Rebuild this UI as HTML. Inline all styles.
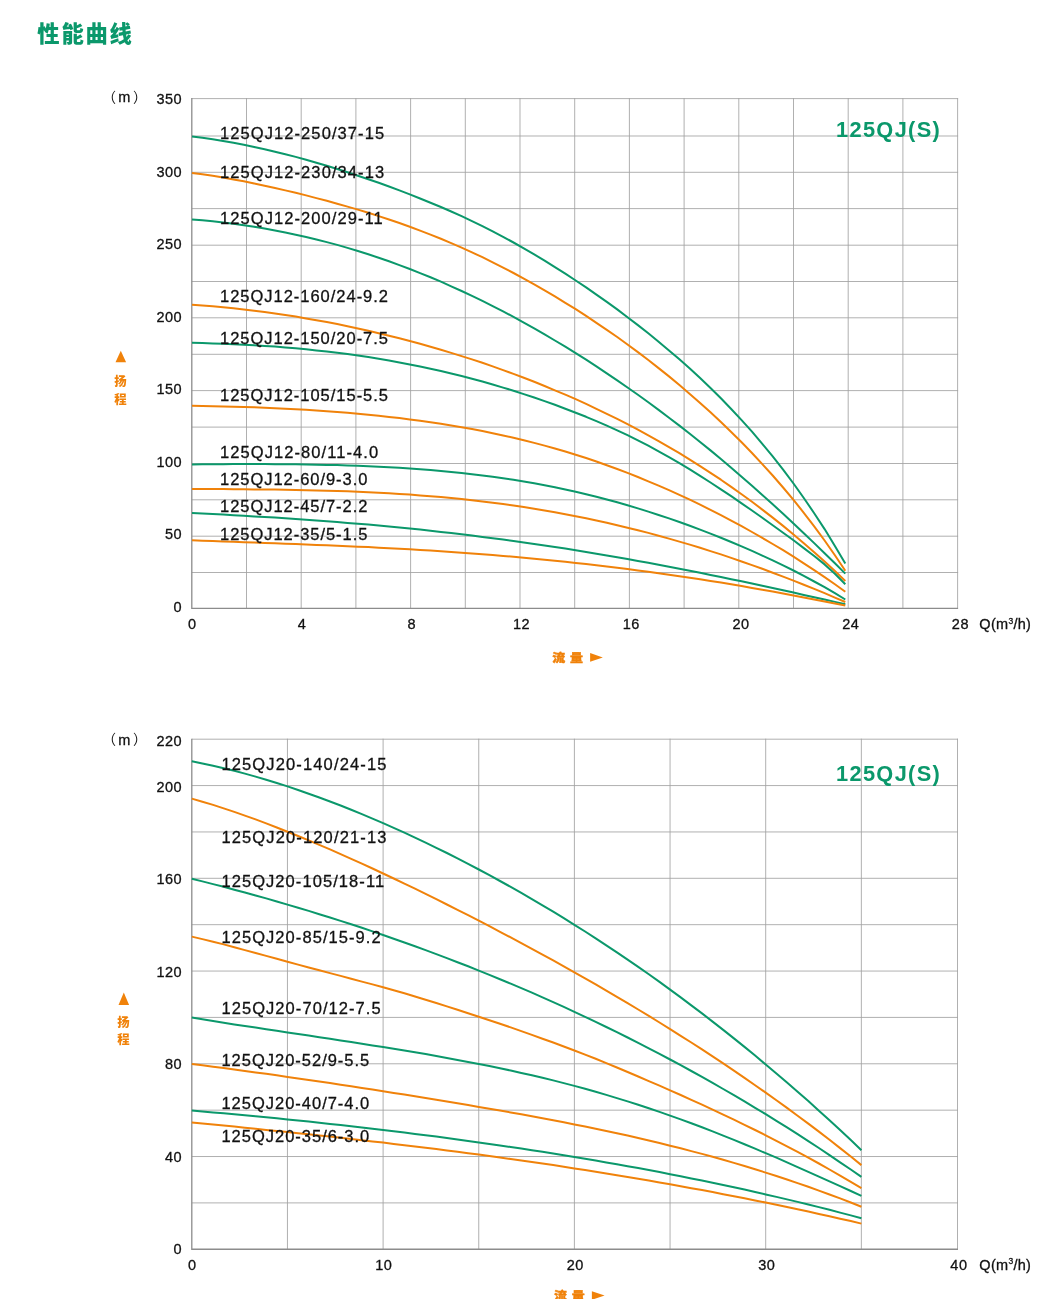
<!DOCTYPE html>
<html lang="zh"><head><meta charset="utf-8"><title>性能曲线</title>
<style>html,body{margin:0;padding:0;background:#fff}svg{display:block}</style>
</head><body>
<svg width="1058" height="1299" viewBox="0 0 1058 1299">
<style>
text{font-family:"Liberation Sans","Noto Sans CJK SC",sans-serif;fill:#111111}
.lb{font-size:16.5px;stroke:#111;stroke-width:0.3px}
.tk{font-size:14.5px;letter-spacing:0.3px;stroke:#111;stroke-width:0.3px}
.yt{stroke:#111;stroke-width:0.3px;font-size:14.5px;text-anchor:end;letter-spacing:0.5px}
.xt{stroke:#111;stroke-width:0.3px;font-size:14.5px;text-anchor:middle;letter-spacing:0.5px}
.ttl{font-family:"Liberation Sans","Noto Sans CJK SC",sans-serif;font-weight:900;font-size:22.3px;fill:#0b986b}
.big{font-weight:bold;font-size:21.8px;fill:#0b986b}
.ax{font-family:"Liberation Sans","Noto Sans CJK SC",sans-serif;font-weight:900;fill:#f0820a}
.pm{font-family:"Liberation Sans","Noto Sans CJK SC",sans-serif;font-weight:400;font-size:14px}
</style>
<rect width="1058" height="1299" fill="#fff"/>
<text x="37.3" y="42.3" class="ttl" textLength="94.6" lengthAdjust="spacing">性能曲线</text>
<path d="M246.50 98.10V608.40M301.20 98.10V608.40M355.90 98.10V608.40M410.60 98.10V608.40M465.30 98.10V608.40M520.00 98.10V608.40M574.70 98.10V608.40M629.40 98.10V608.40M684.10 98.10V608.40M738.80 98.10V608.40M793.50 98.10V608.40M848.20 98.10V608.40M902.90 98.10V608.40M957.60 98.10V608.40M191.80 98.60H958.10M191.80 136.00H958.10M191.80 172.30H958.10M191.80 208.60H958.10M191.80 245.20H958.10M191.80 281.50H958.10M191.80 317.80H958.10M191.80 354.30H958.10M191.80 390.60H958.10M191.80 427.10H958.10M191.80 463.50H958.10M191.80 499.80H958.10M191.80 536.20H958.10M191.80 572.50H958.10" stroke="#a2a2a2" stroke-width="0.85" fill="none"/>
<path d="M191.80 98.10V608.40H958.10" stroke="#8c8c8c" stroke-width="1.3" fill="none"/>
<path d="M192.0 136.5 L202.4 137.8 L212.7 139.3 L223.1 141.0 L233.5 142.8 L243.8 144.8 L254.2 147.0 L264.6 149.2 L275.0 151.7 L285.3 154.2 L295.7 156.9 L306.1 159.8 L316.4 162.7 L326.8 165.8 L337.2 169.0 L347.5 172.3 L357.9 175.7 L368.3 179.2 L378.7 182.8 L389.0 186.5 L399.4 190.4 L409.8 194.4 L420.1 198.5 L430.5 202.7 L440.9 207.0 L451.2 211.5 L461.6 216.2 L472.0 221.1 L482.4 226.1 L492.7 231.4 L503.1 236.8 L513.5 242.5 L523.8 248.3 L534.2 254.4 L544.6 260.6 L554.9 267.1 L565.3 273.7 L575.7 280.5 L586.1 287.4 L596.4 294.6 L606.8 301.9 L617.2 309.4 L627.5 317.2 L637.9 325.1 L648.3 333.3 L658.6 341.7 L669.0 350.4 L679.4 359.3 L689.8 368.5 L700.1 378.1 L710.5 388.0 L720.9 398.3 L731.2 409.0 L741.6 420.1 L752.0 431.7 L762.3 443.8 L772.7 456.4 L783.1 469.6 L793.5 483.5 L803.8 498.0 L814.2 513.2 L824.6 529.1 L834.9 545.9 L845.3 563.5" stroke="#0b986b" stroke-width="2" fill="none" stroke-linejoin="round"/>
<path d="M192.0 172.9 L202.4 174.3 L212.7 175.8 L223.1 177.5 L233.5 179.4 L243.8 181.3 L254.2 183.4 L264.6 185.7 L275.0 188.0 L285.3 190.4 L295.7 192.8 L306.1 195.4 L316.4 198.1 L326.8 200.8 L337.2 203.7 L347.5 206.6 L357.9 209.6 L368.3 212.8 L378.7 216.1 L389.0 219.5 L399.4 223.0 L409.8 226.7 L420.1 230.6 L430.5 234.6 L440.9 238.8 L451.2 243.1 L461.6 247.7 L472.0 252.4 L482.4 257.2 L492.7 262.3 L503.1 267.6 L513.5 273.0 L523.8 278.6 L534.2 284.4 L544.6 290.3 L554.9 296.4 L565.3 302.8 L575.7 309.2 L586.1 315.9 L596.4 322.8 L606.8 329.8 L617.2 337.0 L627.5 344.5 L637.9 352.1 L648.3 360.0 L658.6 368.1 L669.0 376.4 L679.4 385.0 L689.8 393.9 L700.1 403.0 L710.5 412.3 L720.9 422.0 L731.2 432.0 L741.6 442.3 L752.0 453.0 L762.3 464.1 L772.7 475.5 L783.1 487.5 L793.5 499.9 L803.8 512.8 L814.2 526.3 L824.6 540.5 L834.9 555.3 L845.3 570.8" stroke="#f0820a" stroke-width="2" fill="none" stroke-linejoin="round"/>
<path d="M192.0 219.4 L202.4 220.3 L212.7 221.3 L223.1 222.5 L233.5 223.8 L243.8 225.2 L254.2 226.8 L264.6 228.6 L275.0 230.4 L285.3 232.5 L295.7 234.7 L306.1 237.0 L316.4 239.5 L326.8 242.1 L337.2 244.9 L347.5 247.9 L357.9 251.0 L368.3 254.3 L378.7 257.7 L389.0 261.3 L399.4 265.1 L409.8 269.0 L420.1 273.1 L430.5 277.3 L440.9 281.7 L451.2 286.3 L461.6 291.0 L472.0 295.9 L482.4 300.9 L492.7 306.1 L503.1 311.4 L513.5 316.9 L523.8 322.6 L534.2 328.4 L544.6 334.4 L554.9 340.5 L565.3 346.7 L575.7 353.2 L586.1 359.7 L596.4 366.4 L606.8 373.3 L617.2 380.3 L627.5 387.5 L637.9 394.8 L648.3 402.3 L658.6 409.9 L669.0 417.7 L679.4 425.6 L689.8 433.7 L700.1 442.0 L710.5 450.4 L720.9 459.0 L731.2 467.8 L741.6 476.7 L752.0 485.7 L762.3 494.9 L772.7 504.3 L783.1 513.8 L793.5 523.4 L803.8 533.2 L814.2 543.1 L824.6 553.2 L834.9 563.3 L845.3 573.6" stroke="#0b986b" stroke-width="2" fill="none" stroke-linejoin="round"/>
<path d="M192.0 304.8 L202.4 305.5 L212.7 306.3 L223.1 307.3 L233.5 308.3 L243.8 309.4 L254.2 310.7 L264.6 312.0 L275.0 313.4 L285.3 315.0 L295.7 316.6 L306.1 318.4 L316.4 320.2 L326.8 322.1 L337.2 324.1 L347.5 326.3 L357.9 328.5 L368.3 330.8 L378.7 333.2 L389.0 335.7 L399.4 338.3 L409.8 341.0 L420.1 343.8 L430.5 346.7 L440.9 349.7 L451.2 352.9 L461.6 356.1 L472.0 359.4 L482.4 362.8 L492.7 366.4 L503.1 370.1 L513.5 373.9 L523.8 377.8 L534.2 381.8 L544.6 386.0 L554.9 390.3 L565.3 394.7 L575.7 399.2 L586.1 403.9 L596.4 408.8 L606.8 413.8 L617.2 418.9 L627.5 424.2 L637.9 429.7 L648.3 435.3 L658.6 441.1 L669.0 447.1 L679.4 453.2 L689.8 459.6 L700.1 466.1 L710.5 472.8 L720.9 479.7 L731.2 486.9 L741.6 494.2 L752.0 501.8 L762.3 509.6 L772.7 517.6 L783.1 525.9 L793.5 534.4 L803.8 543.2 L814.2 552.2 L824.6 561.5 L834.9 571.1 L845.3 581.0" stroke="#f0820a" stroke-width="2" fill="none" stroke-linejoin="round"/>
<path d="M192.0 342.8 L202.4 343.1 L212.7 343.4 L223.1 343.8 L233.5 344.2 L243.8 344.7 L254.2 345.3 L264.6 345.9 L275.0 346.6 L285.3 347.4 L295.7 348.3 L306.1 349.3 L316.4 350.4 L326.8 351.5 L337.2 352.8 L347.5 354.1 L357.9 355.6 L368.3 357.1 L378.7 358.8 L389.0 360.5 L399.4 362.4 L409.8 364.4 L420.1 366.5 L430.5 368.7 L440.9 371.0 L451.2 373.5 L461.6 376.0 L472.0 378.7 L482.4 381.5 L492.7 384.5 L503.1 387.6 L513.5 390.7 L523.8 394.1 L534.2 397.5 L544.6 401.1 L554.9 404.8 L565.3 408.7 L575.7 412.7 L586.1 416.8 L596.4 421.2 L606.8 425.7 L617.2 430.3 L627.5 435.2 L637.9 440.3 L648.3 445.7 L658.6 451.3 L669.0 457.1 L679.4 463.1 L689.8 469.4 L700.1 475.9 L710.5 482.5 L720.9 489.3 L731.2 496.2 L741.6 503.3 L752.0 510.5 L762.3 517.8 L772.7 525.2 L783.1 532.7 L793.5 540.3 L803.8 548.1 L814.2 556.0 L824.6 564.4 L834.9 573.7 L845.3 584.2" stroke="#0b986b" stroke-width="2" fill="none" stroke-linejoin="round"/>
<path d="M192.0 405.8 L202.4 406.0 L212.7 406.2 L223.1 406.4 L233.5 406.7 L243.8 407.0 L254.2 407.3 L264.6 407.7 L275.0 408.2 L285.3 408.7 L295.7 409.2 L306.1 409.8 L316.4 410.5 L326.8 411.2 L337.2 412.0 L347.5 412.8 L357.9 413.7 L368.3 414.7 L378.7 415.7 L389.0 416.9 L399.4 418.1 L409.8 419.4 L420.1 420.8 L430.5 422.2 L440.9 423.8 L451.2 425.5 L461.6 427.2 L472.0 429.1 L482.4 431.1 L492.7 433.2 L503.1 435.4 L513.5 437.8 L523.8 440.2 L534.2 442.9 L544.6 445.6 L554.9 448.5 L565.3 451.5 L575.7 454.7 L586.1 458.0 L596.4 461.5 L606.8 465.2 L617.2 469.0 L627.5 472.9 L637.9 477.0 L648.3 481.3 L658.6 485.7 L669.0 490.2 L679.4 494.9 L689.8 499.7 L700.1 504.7 L710.5 509.9 L720.9 515.2 L731.2 520.6 L741.6 526.2 L752.0 532.0 L762.3 537.9 L772.7 544.0 L783.1 550.2 L793.5 556.7 L803.8 563.3 L814.2 570.1 L824.6 577.1 L834.9 584.3 L845.3 591.7" stroke="#f0820a" stroke-width="2" fill="none" stroke-linejoin="round"/>
<path d="M192.0 464.4 L202.4 464.3 L212.7 464.2 L223.1 464.2 L233.5 464.1 L243.8 464.1 L254.2 464.1 L264.6 464.1 L275.0 464.2 L285.3 464.2 L295.7 464.3 L306.1 464.5 L316.4 464.7 L326.8 464.9 L337.2 465.1 L347.5 465.4 L357.9 465.8 L368.3 466.2 L378.7 466.7 L389.0 467.2 L399.4 467.8 L409.8 468.5 L420.1 469.3 L430.5 470.1 L440.9 471.0 L451.2 472.0 L461.6 473.0 L472.0 474.2 L482.4 475.4 L492.7 476.8 L503.1 478.3 L513.5 479.8 L523.8 481.5 L534.2 483.3 L544.6 485.2 L554.9 487.3 L565.3 489.5 L575.7 491.8 L586.1 494.2 L596.4 496.8 L606.8 499.5 L617.2 502.3 L627.5 505.3 L637.9 508.4 L648.3 511.6 L658.6 515.0 L669.0 518.4 L679.4 522.0 L689.8 525.8 L700.1 529.6 L710.5 533.6 L720.9 537.7 L731.2 542.0 L741.6 546.4 L752.0 550.9 L762.3 555.6 L772.7 560.4 L783.1 565.4 L793.5 570.5 L803.8 575.9 L814.2 581.5 L824.6 587.2 L834.9 593.2 L845.3 599.5" stroke="#0b986b" stroke-width="2" fill="none" stroke-linejoin="round"/>
<path d="M192.0 488.9 L202.4 489.0 L212.7 489.1 L223.1 489.1 L233.5 489.2 L243.8 489.3 L254.2 489.4 L264.6 489.5 L275.0 489.6 L285.3 489.8 L295.7 490.0 L306.1 490.2 L316.4 490.4 L326.8 490.7 L337.2 491.0 L347.5 491.3 L357.9 491.8 L368.3 492.2 L378.7 492.7 L389.0 493.3 L399.4 493.9 L409.8 494.6 L420.1 495.4 L430.5 496.2 L440.9 497.1 L451.2 498.1 L461.6 499.1 L472.0 500.3 L482.4 501.5 L492.7 502.8 L503.1 504.1 L513.5 505.6 L523.8 507.1 L534.2 508.8 L544.6 510.5 L554.9 512.3 L565.3 514.2 L575.7 516.2 L586.1 518.3 L596.4 520.5 L606.8 522.8 L617.2 525.2 L627.5 527.7 L637.9 530.3 L648.3 532.9 L658.6 535.7 L669.0 538.6 L679.4 541.6 L689.8 544.6 L700.1 547.8 L710.5 551.1 L720.9 554.4 L731.2 557.9 L741.6 561.5 L752.0 565.1 L762.3 568.8 L772.7 572.7 L783.1 576.6 L793.5 580.6 L803.8 584.7 L814.2 588.9 L824.6 593.2 L834.9 597.6 L845.3 602.0" stroke="#f0820a" stroke-width="2" fill="none" stroke-linejoin="round"/>
<path d="M192.0 513.0 L202.4 513.5 L212.7 514.1 L223.1 514.6 L233.5 515.2 L243.8 515.8 L254.2 516.4 L264.6 517.0 L275.0 517.6 L285.3 518.3 L295.7 519.0 L306.1 519.7 L316.4 520.5 L326.8 521.2 L337.2 522.0 L347.5 522.9 L357.9 523.7 L368.3 524.6 L378.7 525.6 L389.0 526.5 L399.4 527.5 L409.8 528.6 L420.1 529.6 L430.5 530.8 L440.9 531.9 L451.2 533.1 L461.6 534.3 L472.0 535.6 L482.4 536.9 L492.7 538.2 L503.1 539.6 L513.5 541.0 L523.8 542.4 L534.2 543.9 L544.6 545.5 L554.9 547.0 L565.3 548.6 L575.7 550.3 L586.1 552.0 L596.4 553.7 L606.8 555.4 L617.2 557.2 L627.5 559.1 L637.9 560.9 L648.3 562.8 L658.6 564.8 L669.0 566.7 L679.4 568.7 L689.8 570.8 L700.1 572.8 L710.5 574.9 L720.9 577.0 L731.2 579.2 L741.6 581.3 L752.0 583.5 L762.3 585.8 L772.7 588.0 L783.1 590.3 L793.5 592.6 L803.8 594.9 L814.2 597.2 L824.6 599.5 L834.9 601.9 L845.3 604.2" stroke="#0b986b" stroke-width="2" fill="none" stroke-linejoin="round"/>
<path d="M192.0 540.3 L202.4 540.7 L212.7 541.1 L223.1 541.4 L233.5 541.8 L243.8 542.2 L254.2 542.5 L264.6 542.9 L275.0 543.3 L285.3 543.7 L295.7 544.1 L306.1 544.5 L316.4 544.9 L326.8 545.3 L337.2 545.7 L347.5 546.2 L357.9 546.7 L368.3 547.1 L378.7 547.7 L389.0 548.2 L399.4 548.7 L409.8 549.3 L420.1 549.9 L430.5 550.6 L440.9 551.2 L451.2 551.9 L461.6 552.7 L472.0 553.4 L482.4 554.2 L492.7 555.0 L503.1 555.9 L513.5 556.8 L523.8 557.7 L534.2 558.7 L544.6 559.7 L554.9 560.7 L565.3 561.8 L575.7 562.9 L586.1 564.0 L596.4 565.2 L606.8 566.4 L617.2 567.7 L627.5 569.0 L637.9 570.4 L648.3 571.8 L658.6 573.2 L669.0 574.7 L679.4 576.2 L689.8 577.7 L700.1 579.3 L710.5 581.0 L720.9 582.6 L731.2 584.3 L741.6 586.1 L752.0 587.9 L762.3 589.7 L772.7 591.6 L783.1 593.5 L793.5 595.4 L803.8 597.4 L814.2 599.4 L824.6 601.4 L834.9 603.5 L845.3 605.6" stroke="#f0820a" stroke-width="2" fill="none" stroke-linejoin="round"/>
<text transform="translate(220.0 138.7) scale(1.000 1)" textLength="164.1" lengthAdjust="spacing" class="lb">125QJ12-250/37-15</text>
<text transform="translate(220.0 178.2) scale(1.000 1)" textLength="164.1" lengthAdjust="spacing" class="lb">125QJ12-230/34-13</text>
<text transform="translate(220.0 223.7) scale(1.000 1)" textLength="162.7" lengthAdjust="spacing" class="lb">125QJ12-200/29-11</text>
<text transform="translate(220.0 301.9) scale(1.000 1)" textLength="168.0" lengthAdjust="spacing" class="lb">125QJ12-160/24-9.2</text>
<text transform="translate(220.0 343.8) scale(1.000 1)" textLength="168.0" lengthAdjust="spacing" class="lb">125QJ12-150/20-7.5</text>
<text transform="translate(220.0 401.2) scale(1.000 1)" textLength="168.0" lengthAdjust="spacing" class="lb">125QJ12-105/15-5.5</text>
<text transform="translate(220.0 457.8) scale(1.000 1)" textLength="158.1" lengthAdjust="spacing" class="lb">125QJ12-80/11-4.0</text>
<text transform="translate(220.0 484.8) scale(1.000 1)" textLength="147.4" lengthAdjust="spacing" class="lb">125QJ12-60/9-3.0</text>
<text transform="translate(220.0 512.3) scale(1.000 1)" textLength="147.4" lengthAdjust="spacing" class="lb">125QJ12-45/7-2.2</text>
<text transform="translate(220.0 539.6) scale(1.000 1)" textLength="147.4" lengthAdjust="spacing" class="lb">125QJ12-35/5-1.5</text>
<text x="836.0" y="136.6" class="big" textLength="103.8" lengthAdjust="spacing">125QJ(S)</text>
<text x="182.2" y="104.2" class="yt">350</text>
<text x="182.2" y="176.7" class="yt">300</text>
<text x="182.2" y="249.2" class="yt">250</text>
<text x="182.2" y="321.7" class="yt">200</text>
<text x="182.2" y="394.2" class="yt">150</text>
<text x="182.2" y="466.6" class="yt">100</text>
<text x="182.2" y="539.1" class="yt">50</text>
<text x="182.2" y="611.6" class="yt">0</text>
<text x="192.4" y="629" class="xt">0</text>
<text x="302.1" y="629" class="xt">4</text>
<text x="411.8" y="629" class="xt">8</text>
<text x="521.6" y="629" class="xt">12</text>
<text x="631.3" y="629" class="xt">16</text>
<text x="741.0" y="629" class="xt">20</text>
<text x="850.7" y="629" class="xt">24</text>
<text x="960.4" y="629" class="xt">28</text>
<text x="979.3" y="629" class="tk">Q(m<tspan dy="-5.5" font-size="8.5">3</tspan><tspan dy="5.5">/h)</tspan></text>
<text x="116" y="101.5" class="pm" text-anchor="end">（</text>
<text x="124.5" y="101.7" class="tk" text-anchor="middle">m</text>
<text x="133" y="101.5" class="pm">）</text>
<path d="M120.8 350.8L126.1 362.3H115.5Z" fill="#f0820a"/>
<text x="120.5" y="386.1" class="ax" font-size="12.4" text-anchor="middle">扬</text>
<text x="120.5" y="403.6" class="ax" font-size="12.4" text-anchor="middle">程</text>
<text transform="translate(552.3 661.9) scale(1.1 1)" class="ax" font-size="11.8" stroke="#f0820a" stroke-width="0.4">流</text>
<text transform="translate(569.9 661.9) scale(1.1 1)" class="ax" font-size="11.8" stroke="#f0820a" stroke-width="0.4">量</text>
<path d="M590.1 653.0L602.8 657.4L590.1 661.8Z" fill="#f0820a"/>
<path d="M287.45 738.70V1249.27M383.10 738.70V1249.27M478.75 738.70V1249.27M574.40 738.70V1249.27M670.05 738.70V1249.27M765.70 738.70V1249.27M861.35 738.70V1249.27M957.50 738.70V1249.27M191.80 739.20H958.00M191.80 785.57H958.00M191.80 831.94H958.00M191.80 878.31H958.00M191.80 924.68H958.00M191.80 971.05H958.00M191.80 1017.42H958.00M191.80 1063.79H958.00M191.80 1110.16H958.00M191.80 1156.53H958.00M191.80 1202.90H958.00" stroke="#a2a2a2" stroke-width="0.85" fill="none"/>
<path d="M191.80 738.70V1249.27H958.00" stroke="#8c8c8c" stroke-width="1.3" fill="none"/>
<path d="M191.8 761.3 L202.4 763.4 L213.1 765.7 L223.7 768.2 L234.3 770.8 L244.9 773.6 L255.6 776.6 L266.2 779.7 L276.8 783.0 L287.5 786.4 L298.1 790.0 L308.7 793.7 L319.3 797.5 L330.0 801.5 L340.6 805.5 L351.2 809.8 L361.9 814.1 L372.5 818.6 L383.1 823.1 L393.7 827.8 L404.4 832.6 L415.0 837.6 L425.6 842.6 L436.3 847.8 L446.9 853.0 L457.5 858.4 L468.1 863.9 L478.8 869.5 L489.4 875.2 L500.0 881.0 L510.7 886.9 L521.3 892.9 L531.9 899.1 L542.5 905.3 L553.2 911.7 L563.8 918.2 L574.4 924.8 L585.1 931.5 L595.7 938.3 L606.3 945.3 L616.9 952.4 L627.6 959.6 L638.2 966.9 L648.8 974.3 L659.5 981.9 L670.1 989.6 L680.7 997.4 L691.3 1005.4 L702.0 1013.4 L712.6 1021.6 L723.2 1029.9 L733.9 1038.4 L744.5 1046.9 L755.1 1055.6 L765.7 1064.5 L776.4 1073.4 L787.0 1082.5 L797.6 1091.8 L808.3 1101.1 L818.9 1110.7 L829.5 1120.3 L840.1 1130.1 L850.8 1140.1 L861.4 1150.2" stroke="#0b986b" stroke-width="2" fill="none" stroke-linejoin="round"/>
<path d="M191.8 798.6 L202.4 801.7 L213.1 804.9 L223.7 808.4 L234.3 811.9 L244.9 815.6 L255.6 819.4 L266.2 823.4 L276.8 827.5 L287.5 831.7 L298.1 836.0 L308.7 840.4 L319.3 844.8 L330.0 849.4 L340.6 854.1 L351.2 858.8 L361.9 863.6 L372.5 868.5 L383.1 873.5 L393.7 878.5 L404.4 883.6 L415.0 888.7 L425.6 893.9 L436.3 899.2 L446.9 904.5 L457.5 909.8 L468.1 915.2 L478.8 920.7 L489.4 926.2 L500.0 931.8 L510.7 937.4 L521.3 943.1 L531.9 948.8 L542.5 954.6 L553.2 960.4 L563.8 966.3 L574.4 972.3 L585.1 978.3 L595.7 984.4 L606.3 990.6 L616.9 996.8 L627.6 1003.1 L638.2 1009.5 L648.8 1015.9 L659.5 1022.5 L670.1 1029.1 L680.7 1035.8 L691.3 1042.5 L702.0 1049.4 L712.6 1056.4 L723.2 1063.4 L733.9 1070.6 L744.5 1077.8 L755.1 1085.2 L765.7 1092.6 L776.4 1100.2 L787.0 1107.9 L797.6 1115.7 L808.3 1123.6 L818.9 1131.6 L829.5 1139.8 L840.1 1148.1 L850.8 1156.5 L861.4 1165.1" stroke="#f0820a" stroke-width="2" fill="none" stroke-linejoin="round"/>
<path d="M191.8 878.7 L202.4 881.4 L213.1 884.1 L223.7 886.8 L234.3 889.7 L244.9 892.5 L255.6 895.5 L266.2 898.4 L276.8 901.5 L287.5 904.6 L298.1 907.7 L308.7 910.9 L319.3 914.2 L330.0 917.5 L340.6 920.9 L351.2 924.3 L361.9 927.8 L372.5 931.4 L383.1 935.0 L393.7 938.7 L404.4 942.5 L415.0 946.3 L425.6 950.1 L436.3 954.1 L446.9 958.1 L457.5 962.2 L468.1 966.3 L478.8 970.6 L489.4 974.9 L500.0 979.2 L510.7 983.7 L521.3 988.2 L531.9 992.7 L542.5 997.4 L553.2 1002.1 L563.8 1006.9 L574.4 1011.8 L585.1 1016.8 L595.7 1021.8 L606.3 1027.0 L616.9 1032.2 L627.6 1037.5 L638.2 1042.8 L648.8 1048.3 L659.5 1053.8 L670.1 1059.5 L680.7 1065.2 L691.3 1071.0 L702.0 1076.9 L712.6 1082.9 L723.2 1089.0 L733.9 1095.1 L744.5 1101.4 L755.1 1107.8 L765.7 1114.2 L776.4 1120.8 L787.0 1127.4 L797.6 1134.2 L808.3 1141.1 L818.9 1148.0 L829.5 1155.1 L840.1 1162.3 L850.8 1169.5 L861.4 1176.9" stroke="#0b986b" stroke-width="2" fill="none" stroke-linejoin="round"/>
<path d="M191.8 936.6 L202.4 939.1 L213.1 941.7 L223.7 944.4 L234.3 947.3 L244.9 950.1 L255.6 953.0 L266.2 955.9 L276.8 958.8 L287.5 961.7 L298.1 964.6 L308.7 967.5 L319.3 970.3 L330.0 973.1 L340.6 975.9 L351.2 978.7 L361.9 981.6 L372.5 984.4 L383.1 987.3 L393.7 990.3 L404.4 993.3 L415.0 996.5 L425.6 999.7 L436.3 1003.0 L446.9 1006.4 L457.5 1009.8 L468.1 1013.2 L478.8 1016.7 L489.4 1020.2 L500.0 1023.8 L510.7 1027.4 L521.3 1031.1 L531.9 1034.9 L542.5 1038.7 L553.2 1042.5 L563.8 1046.5 L574.4 1050.5 L585.1 1054.6 L595.7 1058.8 L606.3 1063.1 L616.9 1067.5 L627.6 1072.0 L638.2 1076.5 L648.8 1081.1 L659.5 1085.7 L670.1 1090.3 L680.7 1095.0 L691.3 1099.8 L702.0 1104.6 L712.6 1109.6 L723.2 1114.6 L733.9 1119.6 L744.5 1124.8 L755.1 1130.0 L765.7 1135.3 L776.4 1140.8 L787.0 1146.3 L797.6 1151.9 L808.3 1157.7 L818.9 1163.5 L829.5 1169.5 L840.1 1175.6 L850.8 1181.8 L861.4 1188.1" stroke="#f0820a" stroke-width="2" fill="none" stroke-linejoin="round"/>
<path d="M191.8 1017.6 L202.4 1019.3 L213.1 1021.0 L223.7 1022.7 L234.3 1024.4 L244.9 1026.0 L255.6 1027.6 L266.2 1029.2 L276.8 1030.8 L287.5 1032.4 L298.1 1034.0 L308.7 1035.6 L319.3 1037.2 L330.0 1038.8 L340.6 1040.4 L351.2 1042.1 L361.9 1043.7 L372.5 1045.4 L383.1 1047.1 L393.7 1048.8 L404.4 1050.5 L415.0 1052.3 L425.6 1054.1 L436.3 1056.0 L446.9 1057.9 L457.5 1059.9 L468.1 1061.9 L478.8 1063.9 L489.4 1066.1 L500.0 1068.3 L510.7 1070.5 L521.3 1072.9 L531.9 1075.3 L542.5 1077.8 L553.2 1080.4 L563.8 1083.1 L574.4 1085.9 L585.1 1088.8 L595.7 1091.8 L606.3 1094.9 L616.9 1098.1 L627.6 1101.4 L638.2 1104.8 L648.8 1108.3 L659.5 1111.9 L670.1 1115.6 L680.7 1119.4 L691.3 1123.3 L702.0 1127.3 L712.6 1131.4 L723.2 1135.6 L733.9 1139.9 L744.5 1144.2 L755.1 1148.7 L765.7 1153.2 L776.4 1157.7 L787.0 1162.4 L797.6 1167.1 L808.3 1171.8 L818.9 1176.6 L829.5 1181.4 L840.1 1186.2 L850.8 1191.0 L861.4 1195.9" stroke="#0b986b" stroke-width="2" fill="none" stroke-linejoin="round"/>
<path d="M191.8 1064.0 L202.4 1065.3 L213.1 1066.7 L223.7 1068.1 L234.3 1069.5 L244.9 1070.9 L255.6 1072.4 L266.2 1073.8 L276.8 1075.3 L287.5 1076.9 L298.1 1078.4 L308.7 1079.9 L319.3 1081.5 L330.0 1083.1 L340.6 1084.7 L351.2 1086.3 L361.9 1087.9 L372.5 1089.6 L383.1 1091.2 L393.7 1092.9 L404.4 1094.6 L415.0 1096.3 L425.6 1098.0 L436.3 1099.8 L446.9 1101.5 L457.5 1103.3 L468.1 1105.1 L478.8 1106.9 L489.4 1108.7 L500.0 1110.6 L510.7 1112.4 L521.3 1114.3 L531.9 1116.3 L542.5 1118.2 L553.2 1120.2 L563.8 1122.3 L574.4 1124.4 L585.1 1126.5 L595.7 1128.7 L606.3 1131.0 L616.9 1133.2 L627.6 1135.6 L638.2 1138.0 L648.8 1140.5 L659.5 1143.0 L670.1 1145.7 L680.7 1148.3 L691.3 1151.1 L702.0 1153.9 L712.6 1156.8 L723.2 1159.8 L733.9 1162.9 L744.5 1166.0 L755.1 1169.3 L765.7 1172.6 L776.4 1176.0 L787.0 1179.5 L797.6 1183.1 L808.3 1186.8 L818.9 1190.6 L829.5 1194.5 L840.1 1198.4 L850.8 1202.5 L861.4 1206.7" stroke="#f0820a" stroke-width="2" fill="none" stroke-linejoin="round"/>
<path d="M191.8 1110.6 L202.4 1111.5 L213.1 1112.4 L223.7 1113.3 L234.3 1114.3 L244.9 1115.3 L255.6 1116.3 L266.2 1117.3 L276.8 1118.3 L287.5 1119.4 L298.1 1120.5 L308.7 1121.6 L319.3 1122.7 L330.0 1123.9 L340.6 1125.0 L351.2 1126.2 L361.9 1127.4 L372.5 1128.7 L383.1 1129.9 L393.7 1131.2 L404.4 1132.5 L415.0 1133.9 L425.6 1135.2 L436.3 1136.6 L446.9 1138.0 L457.5 1139.4 L468.1 1140.9 L478.8 1142.4 L489.4 1143.9 L500.0 1145.4 L510.7 1147.0 L521.3 1148.6 L531.9 1150.2 L542.5 1151.8 L553.2 1153.5 L563.8 1155.2 L574.4 1157.0 L585.1 1158.7 L595.7 1160.5 L606.3 1162.4 L616.9 1164.3 L627.6 1166.2 L638.2 1168.1 L648.8 1170.1 L659.5 1172.1 L670.1 1174.2 L680.7 1176.2 L691.3 1178.4 L702.0 1180.5 L712.6 1182.7 L723.2 1185.0 L733.9 1187.3 L744.5 1189.6 L755.1 1192.0 L765.7 1194.4 L776.4 1196.9 L787.0 1199.4 L797.6 1201.9 L808.3 1204.5 L818.9 1207.1 L829.5 1209.8 L840.1 1212.6 L850.8 1215.4 L861.4 1218.2" stroke="#0b986b" stroke-width="2" fill="none" stroke-linejoin="round"/>
<path d="M191.8 1122.4 L202.4 1123.4 L213.1 1124.5 L223.7 1125.5 L234.3 1126.6 L244.9 1127.7 L255.6 1128.8 L266.2 1129.9 L276.8 1130.9 L287.5 1132.1 L298.1 1133.2 L308.7 1134.3 L319.3 1135.5 L330.0 1136.6 L340.6 1137.8 L351.2 1139.0 L361.9 1140.2 L372.5 1141.4 L383.1 1142.6 L393.7 1143.9 L404.4 1145.2 L415.0 1146.4 L425.6 1147.8 L436.3 1149.1 L446.9 1150.4 L457.5 1151.8 L468.1 1153.2 L478.8 1154.6 L489.4 1156.0 L500.0 1157.5 L510.7 1159.0 L521.3 1160.5 L531.9 1162.0 L542.5 1163.6 L553.2 1165.1 L563.8 1166.8 L574.4 1168.4 L585.1 1170.0 L595.7 1171.7 L606.3 1173.4 L616.9 1175.2 L627.6 1176.9 L638.2 1178.7 L648.8 1180.6 L659.5 1182.4 L670.1 1184.3 L680.7 1186.2 L691.3 1188.2 L702.0 1190.1 L712.6 1192.1 L723.2 1194.2 L733.9 1196.2 L744.5 1198.3 L755.1 1200.5 L765.7 1202.6 L776.4 1204.8 L787.0 1207.1 L797.6 1209.3 L808.3 1211.6 L818.9 1214.0 L829.5 1216.3 L840.1 1218.7 L850.8 1221.1 L861.4 1223.6" stroke="#f0820a" stroke-width="2" fill="none" stroke-linejoin="round"/>
<text transform="translate(221.4 769.7) scale(1.000 1)" textLength="165.0" lengthAdjust="spacing" class="lb">125QJ20-140/24-15</text>
<text transform="translate(221.4 843.1) scale(1.000 1)" textLength="165.0" lengthAdjust="spacing" class="lb">125QJ20-120/21-13</text>
<text transform="translate(221.4 887.4) scale(1.000 1)" textLength="162.7" lengthAdjust="spacing" class="lb">125QJ20-105/18-11</text>
<text transform="translate(221.4 943.4) scale(1.000 1)" textLength="159.3" lengthAdjust="spacing" class="lb">125QJ20-85/15-9.2</text>
<text transform="translate(221.4 1014.2) scale(1.000 1)" textLength="159.3" lengthAdjust="spacing" class="lb">125QJ20-70/12-7.5</text>
<text transform="translate(221.4 1065.8) scale(1.000 1)" textLength="147.9" lengthAdjust="spacing" class="lb">125QJ20-52/9-5.5</text>
<text transform="translate(221.4 1109.4) scale(1.000 1)" textLength="147.9" lengthAdjust="spacing" class="lb">125QJ20-40/7-4.0</text>
<text transform="translate(221.4 1141.7) scale(1.000 1)" textLength="147.9" lengthAdjust="spacing" class="lb">125QJ20-35/6-3.0</text>
<text x="836.0" y="781.2" class="big" textLength="103.8" lengthAdjust="spacing">125QJ(S)</text>
<text x="182.2" y="745.8" class="yt">220</text>
<text x="182.2" y="792.0" class="yt">200</text>
<text x="182.2" y="884.4" class="yt">160</text>
<text x="182.2" y="976.8" class="yt">120</text>
<text x="182.2" y="1069.2" class="yt">80</text>
<text x="182.2" y="1161.5" class="yt">40</text>
<text x="182.2" y="1253.9" class="yt">0</text>
<text x="192.2" y="1269.6" class="xt">0</text>
<text x="383.7" y="1269.6" class="xt">10</text>
<text x="575.2" y="1269.6" class="xt">20</text>
<text x="766.8" y="1269.6" class="xt">30</text>
<text x="958.9" y="1269.6" class="xt">40</text>
<text x="979.3" y="1269.6" class="tk">Q(m<tspan dy="-5.5" font-size="8.5">3</tspan><tspan dy="5.5">/h)</tspan></text>
<text x="116" y="744.3" class="pm" text-anchor="end">（</text>
<text x="124.5" y="744.5" class="tk" text-anchor="middle">m</text>
<text x="133" y="744.3" class="pm">）</text>
<path d="M123.8 992.4L129.1 1004.9H118.5Z" fill="#f0820a"/>
<text x="123.5" y="1026.9" class="ax" font-size="12.4" text-anchor="middle">扬</text>
<text x="123.5" y="1043.9" class="ax" font-size="12.4" text-anchor="middle">程</text>
<text transform="translate(554.1 1300.0) scale(1.1 1)" class="ax" font-size="11.8" stroke="#f0820a" stroke-width="0.4">流</text>
<text transform="translate(571.7 1300.0) scale(1.1 1)" class="ax" font-size="11.8" stroke="#f0820a" stroke-width="0.4">量</text>
<path d="M591.9 1291.2L604.6 1295.5L591.9 1299.8Z" fill="#f0820a"/>
</svg>
</body></html>
